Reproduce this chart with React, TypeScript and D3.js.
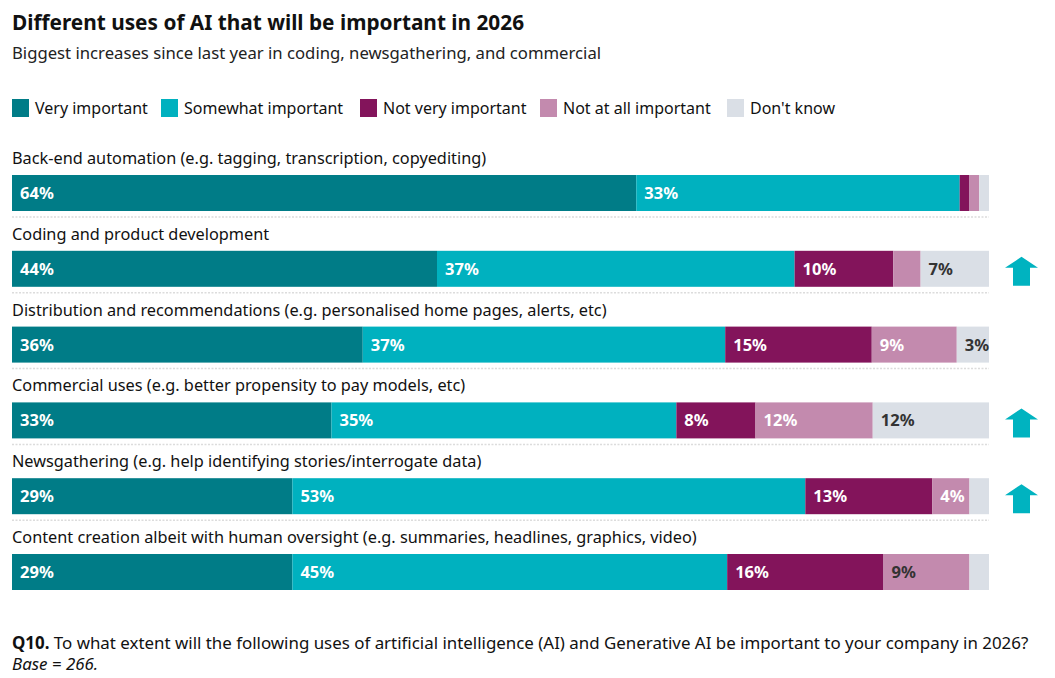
import React from "react";
import * as d3 from "d3";

const categories = [
  "Back-end automation (e.g. tagging, transcription, copyediting)",
  "Coding and product development",
  "Distribution and recommendations (e.g. personalised home pages, alerts, etc)",
  "Commercial uses (e.g. better propensity to pay models, etc)",
  "Newsgathering (e.g. help identifying stories/interrogate data)",
  "Content creation albeit with human oversight (e.g. summaries, headlines, graphics, video)",
];

const seriesNames = ["Very important", "Somewhat important", "Not very important", "Not at all important", "Don't know"];

const veryImportant = [63.9, 43.5, 35.9, 32.7, 28.7, 28.7];
const somewhatImportant = [33.1, 36.6, 37.1, 35.3, 52.5, 44.5];
const notVeryImportant = [1.0, 10.1, 15.0, 8.1, 13.0, 16.0];
const notAtAllImportant = [1.0, 2.8, 8.7, 12.0, 3.8, 8.8];
const dontKnow = [1.0, 7.0, 3.3, 11.9, 2.0, 2.0];

const increased = [false, true, false, true, true, false];
const darkPinkLabel = [false, false, false, false, false, true];

const colors = ["#007C87", "#00B1BF", "#83145B", "#C38AAE", "#DADFE6"];
const FONT = "'Noto Sans', 'Open Sans', sans-serif";

export default function App() {
  const W = 1055, H = 678;
  const left = 12, right = 989;
  const firstBarTop = 175, rowStep = 75.8, barH = 36;
  const series = [veryImportant, somewhatImportant, notVeryImportant, notAtAllImportant, dontKnow];
  const x = d3.scaleLinear().domain([0, 100]).range([left, right]);

  const rows = categories.map((c, i) => {
    const top = firstBarTop + i * rowStep;
    let acc = 0;
    const segs = series.map((s, k) => {
      const v = s[i];
      const x0 = x(acc);
      acc += v;
      const x1 = x(acc);
      return { k, v, x0, x1 };
    });
    return { c, i, top, segs };
  });

  const legendX = [12, 161, 360, 540, 727];

  return (
    <div style={{ position: "absolute", left: 0, top: 0 }}>
      <svg width={W} height={H} style={{ display: "block", background: "#fff" }} fontFamily={FONT}>
        <text x={12} y={30} fontSize={20.8} fontWeight={700} fill="#111">Different uses of AI that will be important in 2026</text>
        <text x={12} y={59} fontSize={16.7} fill="#222">Biggest increases since last year in coding, newsgathering, and commercial</text>

        {seriesNames.map((n, k) => (
          <g key={n}>
            <rect x={legendX[k]} y={99} width={17} height={18} fill={colors[k]} />
            <text x={legendX[k] + 23} y={114} fontSize={16} fill="#111">{n}</text>
          </g>
        ))}

        {rows.map((r) => (
          <g key={r.c}>
            <text x={12} y={r.top - 11} fontSize={16.3} fill="#111">{r.c}</text>
            {r.segs.map((s) => (
              <rect key={s.k} x={s.x0} y={r.top} width={Math.max(0, s.x1 - s.x0)} height={barH} fill={colors[s.k]} />
            ))}
            {r.segs.map((s) =>
              s.v >= 3 ? (
                <text
                  key={"t" + s.k}
                  x={s.x0 + 8}
                  y={r.top + barH / 2 + 6}
                  fontSize={16.5}
                  fontWeight={700}
                  fill={s.k === 4 || (s.k === 3 && darkPinkLabel[r.i]) ? "#333" : "#fff"}
                >
                  {Math.round(s.v)}%
                </text>
              ) : null
            )}
            {r.i < categories.length - 1 && (
              <line x1={left} x2={right} y1={r.top + barH + 6} y2={r.top + barH + 6} stroke="#dcdcdc" strokeWidth={1.5} strokeDasharray="2,1.5" />
            )}
            {increased[r.i] && (
              <path
                transform={`translate(1021.5, ${r.top + 6})`}
                d="M0,0 L16.5,11 L8.5,11 L8.5,29 L-8.5,29 L-8.5,11 L-16.5,11 Z"
                fill="#00B3C0"
              />
            )}
          </g>
        ))}

        <text x={12} y={649} fontSize={16.9} fill="#111">
          <tspan fontWeight={700}>Q10.</tspan> To what extent will the following uses of artificial intelligence (AI) and Generative AI be important to your company in 2026?
        </text>
        <text x={12} y={670} fontSize={16.9} fontStyle="italic" fill="#111">Base = 266.</text>
      </svg>
    </div>
  );
}
